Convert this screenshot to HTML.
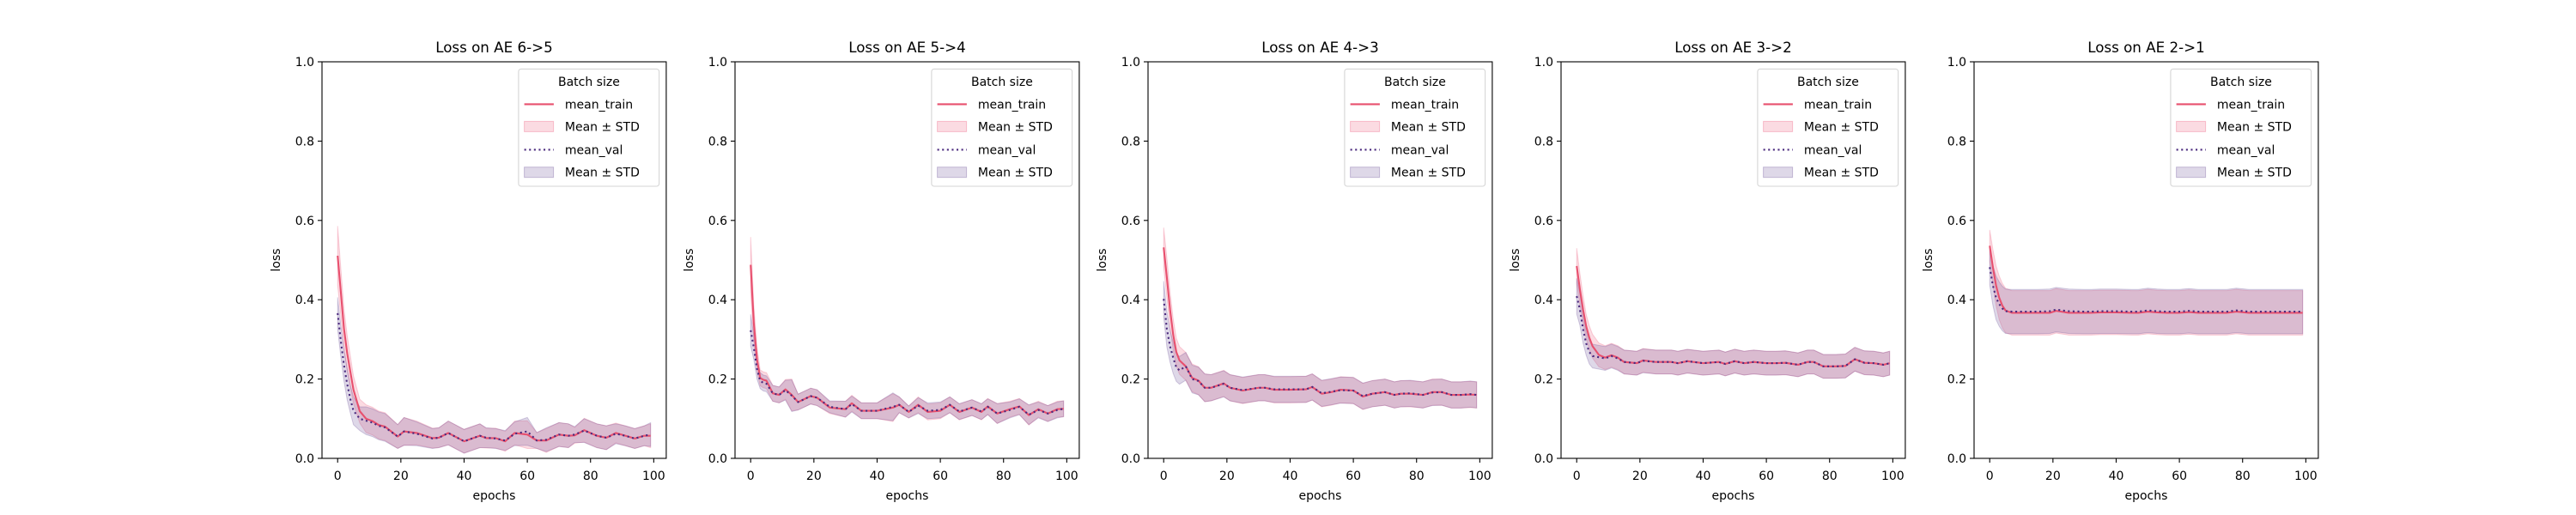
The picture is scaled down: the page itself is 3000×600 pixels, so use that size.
<!DOCTYPE html>
<html><head><meta charset="utf-8"><style>
html,body{margin:0;padding:0;background:#fff;}
svg{display:block;}
text{font-family:"DejaVu Sans","Liberation Sans",sans-serif;fill:#000;}
</style></head><body>
<svg id="fig" xmlns="http://www.w3.org/2000/svg" width="3000" height="600" viewBox="0 0 3000 600"></svg>
<script>
const epochs = [0,1,2,3,4,5,7,9,11,13,15,19,21,25,30,32,35,40,45,47,50,53,56,60,63,66,70,73,75,78,82,85,88,91,94,97,99];
const titles = ["Loss on AE 6->5","Loss on AE 5->4","Loss on AE 4->3","Loss on AE 3->2","Loss on AE 2->1"];
const xTicks = [0,20,40,60,80,100];
const yTicks = [0.0,0.2,0.4,0.6,0.8,1.0];
const yTickLabels = ["0.0","0.2","0.4","0.6","0.8","1.0"];

const train1 = [.511,.42,.327,.266,.219,.173,.119,.100,.094,.084,.080,.055,.068,.064,.051,.052,.064,.043,.057,.051,.051,.043,.064,.060,.045,.045,.060,.057,.058,.071,.057,.052,.064,.057,.050,.057,.057];
const val1 = [.366,.296,.235,.188,.150,.120,.100,.095,.090,.082,.078,.055,.068,.062,.050,.052,.064,.043,.057,.052,.050,.045,.062,.068,.045,.047,.060,.057,.060,.070,.057,.052,.062,.057,.050,.057,.060];
const trainStd1 = [.075,.06,.05,.045,.04,.035,.03,.035,.035,.035,.035,.03,.035,.03,.025,.025,.03,.03,.03,.025,.025,.025,.03,.035,.02,.03,.03,.03,.02,.03,.03,.03,.025,.025,.025,.025,.03];
const valStd1 = [.04,.04,.04,.04,.035,.035,.03,.035,.035,.035,.035,.03,.035,.03,.025,.025,.03,.03,.03,.025,.025,.025,.03,.035,.02,.03,.03,.03,.02,.03,.03,.03,.025,.025,.025,.025,.03];

const train2 = [.488,.34,.25,.203,.198,.196,.164,.16,.174,.16,.142,.157,.153,.128,.124,.139,.12,.12,.128,.135,.117,.135,.117,.12,.135,.117,.128,.117,.131,.113,.124,.131,.109,.124,.113,.124,.125];
const val2 = [.323,.279,.225,.196,.19,.188,.164,.16,.172,.158,.142,.157,.153,.13,.124,.137,.12,.12,.13,.135,.117,.133,.12,.122,.135,.118,.128,.118,.13,.113,.122,.13,.11,.122,.113,.122,.125];
const trainStd2 = [.07,.045,.03,.02,.02,.02,.02,.02,.025,.04,.02,.02,.02,.015,.02,.02,.02,.02,.035,.02,.015,.02,.02,.02,.02,.02,.02,.02,.02,.025,.02,.02,.025,.02,.02,.02,.02];
const valStd2 = [.04,.03,.025,.02,.02,.02,.02,.02,.025,.04,.02,.02,.02,.015,.02,.02,.02,.02,.035,.02,.015,.02,.02,.02,.02,.02,.02,.02,.02,.025,.02,.02,.025,.02,.02,.02,.02];

const train3 = [.532,.456,.376,.312,.268,.247,.232,.203,.196,.178,.178,.189,.178,.171,.178,.178,.173,.173,.174,.18,.163,.167,.173,.171,.156,.163,.167,.16,.163,.163,.16,.167,.167,.16,.16,.161,.16];
const val3 = [.402,.326,.283,.254,.229,.222,.232,.200,.195,.178,.178,.188,.178,.172,.178,.178,.174,.174,.174,.18,.164,.168,.172,.171,.157,.163,.167,.16,.163,.164,.16,.166,.167,.16,.16,.162,.16];
const trainStd3 = [.05,.05,.045,.04,.035,.035,.035,.035,.035,.035,.033,.033,.033,.033,.033,.033,.033,.033,.033,.033,.033,.033,.033,.033,.033,.033,.033,.033,.033,.033,.033,.033,.033,.033,.033,.033,.033];
const valStd3 = [.045,.045,.04,.04,.035,.035,.035,.035,.035,.035,.033,.033,.033,.033,.033,.033,.033,.033,.033,.033,.033,.033,.033,.033,.033,.033,.033,.033,.033,.033,.033,.033,.033,.033,.033,.033,.033];

const train4 = [.485,.427,.376,.333,.304,.283,.261,.254,.26,.254,.243,.24,.247,.243,.243,.24,.245,.24,.243,.238,.245,.24,.243,.24,.24,.241,.236,.243,.243,.232,.232,.233,.25,.241,.24,.236,.24];
const val4 = [.409,.376,.326,.29,.268,.258,.255,.252,.258,.252,.243,.24,.246,.243,.243,.24,.245,.24,.243,.238,.245,.24,.243,.24,.24,.241,.236,.243,.243,.232,.232,.233,.25,.241,.24,.236,.24];
const trainStd4 = [.045,.04,.035,.03,.03,.03,.03,.03,.03,.03,.03,.03,.03,.03,.03,.03,.03,.03,.03,.03,.03,.03,.03,.03,.03,.03,.03,.03,.03,.03,.03,.03,.03,.03,.03,.03,.03];
const valStd4 = [.045,.04,.035,.03,.03,.03,.03,.03,.03,.03,.03,.03,.03,.03,.03,.03,.03,.03,.03,.03,.03,.03,.03,.03,.03,.03,.03,.03,.03,.03,.03,.03,.03,.03,.03,.03,.03];

const train5 = [.536,.482,.436,.405,.385,.373,.367,.367,.367,.367,.367,.367,.372,.367,.367,.367,.368,.368,.367,.367,.37,.368,.367,.367,.369,.367,.367,.367,.367,.37,.367,.367,.367,.367,.367,.367,.367];
const val5 = [.482,.436,.405,.389,.378,.371,.370,.370,.370,.370,.370,.371,.375,.371,.370,.370,.371,.371,.370,.370,.373,.371,.370,.370,.372,.370,.370,.370,.370,.373,.370,.370,.370,.370,.370,.370,.370];
const trainStd5 = [.04,.045,.05,.055,.056,.056,.056,.056,.056,.056,.056,.056,.056,.056,.056,.056,.056,.056,.056,.056,.056,.056,.056,.056,.056,.056,.056,.056,.056,.056,.056,.056,.056,.056,.056,.056,.056];
const valStd5 = [.045,.05,.055,.056,.056,.056,.056,.056,.056,.056,.056,.056,.056,.056,.056,.056,.056,.056,.056,.056,.056,.056,.056,.056,.056,.056,.056,.056,.056,.056,.056,.056,.056,.056,.056,.056,.056];

const trains = [train1,train2,train3,train4,train5];
const vals = [val1,val2,val3,val4,val5];
const trainStds = [trainStd1,trainStd2,trainStd3,trainStd4,trainStd5];
const valStds = [valStd1,valStd2,valStd3,valStd4,valStd5];

const NS = "http://www.w3.org/2000/svg";
const svg = document.getElementById("fig");
function mk(tag, attrs, parent){const e=document.createElementNS(NS,tag);for(const k in attrs)e.setAttribute(k,attrs[k]);(parent||svg).appendChild(e);return e;}

const AX_L0=375, AX_STEP=481, AX_W=400.9, AX_T=72, AX_B=534;
const XMIN=-4.95, XMAX=103.95;
const TRAIN_C="#e8506e", VAL_C="#4b2a7e";

for(let p=0;p<5;p++){
  const L=AX_L0+p*AX_STEP, R=L+AX_W;
  const xs=v=>L+(v-XMIN)/(XMAX-XMIN)*AX_W;
  const ys=v=>AX_B-v*(AX_B-AX_T);
  const g=mk("g",{});
  
  

  const bandPath=(m,s)=>{let d="";for(let i=0;i<epochs.length;i++)d+=(i?"L":"M")+xs(epochs[i]).toFixed(2)+","+ys(m[i]+s[i]).toFixed(2);
    for(let i=epochs.length-1;i>=0;i--)d+="L"+xs(epochs[i]).toFixed(2)+","+ys(m[i]-s[i]).toFixed(2);return d+"Z";};
  const linePath=m=>{let d="";for(let i=0;i<epochs.length;i++)d+=(i?"L":"M")+xs(epochs[i]).toFixed(2)+","+ys(m[i]).toFixed(2);return d;};

  const b1=mk("path",{d:bandPath(trains[p],trainStds[p]),fill:"rgba(240,110,140,0.25)",stroke:"rgba(240,110,140,0.3)","stroke-width":1},g);
  
  
  const b2=mk("path",{d:bandPath(vals[p],valStds[p]),fill:"rgba(90,60,140,0.2)",stroke:"rgba(90,60,140,0.25)","stroke-width":1},g);
  
  
  const l1=mk("path",{d:linePath(trains[p]),fill:"none",stroke:TRAIN_C,"stroke-width":2.1,"stroke-linejoin":"round"},g);
  
  
  const l2=mk("path",{d:linePath(vals[p]),fill:"none",stroke:VAL_C,"stroke-width":2.1,"stroke-dasharray":"2.1 3.5"},g);
  
  

  const fr=mk("rect",{x:L,y:AX_T,width:AX_W,height:AX_B-AX_T,fill:"none",stroke:"#000","stroke-width":1.1},g);
  
  

  xTicks.forEach(t=>{
    const x=xs(t);
    mk("line",{x1:x,x2:x,y1:AX_B,y2:AX_B+5,stroke:"#000","stroke-width":1.1},g);
    const tx=mk("text",{x:x,y:559,"text-anchor":"middle","font-size":14},g);
    tx.textContent=String(t);
    
    
  });
  yTicks.forEach((t,i)=>{
    const y=ys(t);
    mk("line",{x1:L-5,x2:L,y1:y,y2:y,stroke:"#000","stroke-width":1.1},g);
    const ty=mk("text",{x:L-9,y:y+5,"text-anchor":"end","font-size":14},g);
    ty.textContent=yTickLabels[i];
    
    
  });
  const xl=mk("text",{x:(L+R)/2,y:582,"text-anchor":"middle","font-size":14},g);
  xl.textContent="epochs";
  
  
  const yl=mk("text",{x:0,y:0,"text-anchor":"middle","font-size":14,transform:`translate(${L-49},${(AX_T+AX_B)/2}) rotate(-90)`},g);
  yl.textContent="loss";
  
  
  const tt=mk("text",{x:(L+R)/2,y:61,"text-anchor":"middle","font-size":16.7},g);
  tt.textContent=titles[p];
  
  

  const lg=mk("g",{},g);
  
  
  const LX=R-172, LY=80.4;
  mk("rect",{x:LX,y:LY,width:163.7,height:136.6,rx:3,fill:"rgba(255,255,255,0.8)",stroke:"#d6d6d6","stroke-width":1.1},lg);
  const lt=mk("text",{x:LX+82,y:LY+19.5,"text-anchor":"middle","font-size":14},lg);
  lt.textContent="Batch size";
  const rows=[41,67,94,120.3];
  const labels=["mean_train","Mean \u00b1 STD","mean_val","Mean \u00b1 STD"];
  rows.forEach((ry,i)=>{
    const y=LY+ry;
    if(i===0) mk("line",{x1:LX+6.7,x2:LX+41,y1:y,y2:y,stroke:TRAIN_C,"stroke-width":2.1},lg);
    if(i===1) mk("rect",{x:LX+6.7,y:y-6,width:34,height:12,fill:"rgba(240,110,140,0.25)",stroke:"rgba(240,110,140,0.4)"},lg);
    if(i===2) mk("line",{x1:LX+6.7,x2:LX+41,y1:y,y2:y,stroke:VAL_C,"stroke-width":2.1,"stroke-dasharray":"2.1 3.5"},lg);
    if(i===3) mk("rect",{x:LX+6.7,y:y-6,width:34,height:12,fill:"rgba(90,60,140,0.2)",stroke:"rgba(90,60,140,0.3)"},lg);
    const te=mk("text",{x:LX+54,y:y+5,"font-size":14},lg);
    te.textContent=labels[i];
    
    
  });
}
</script>
</body></html>
